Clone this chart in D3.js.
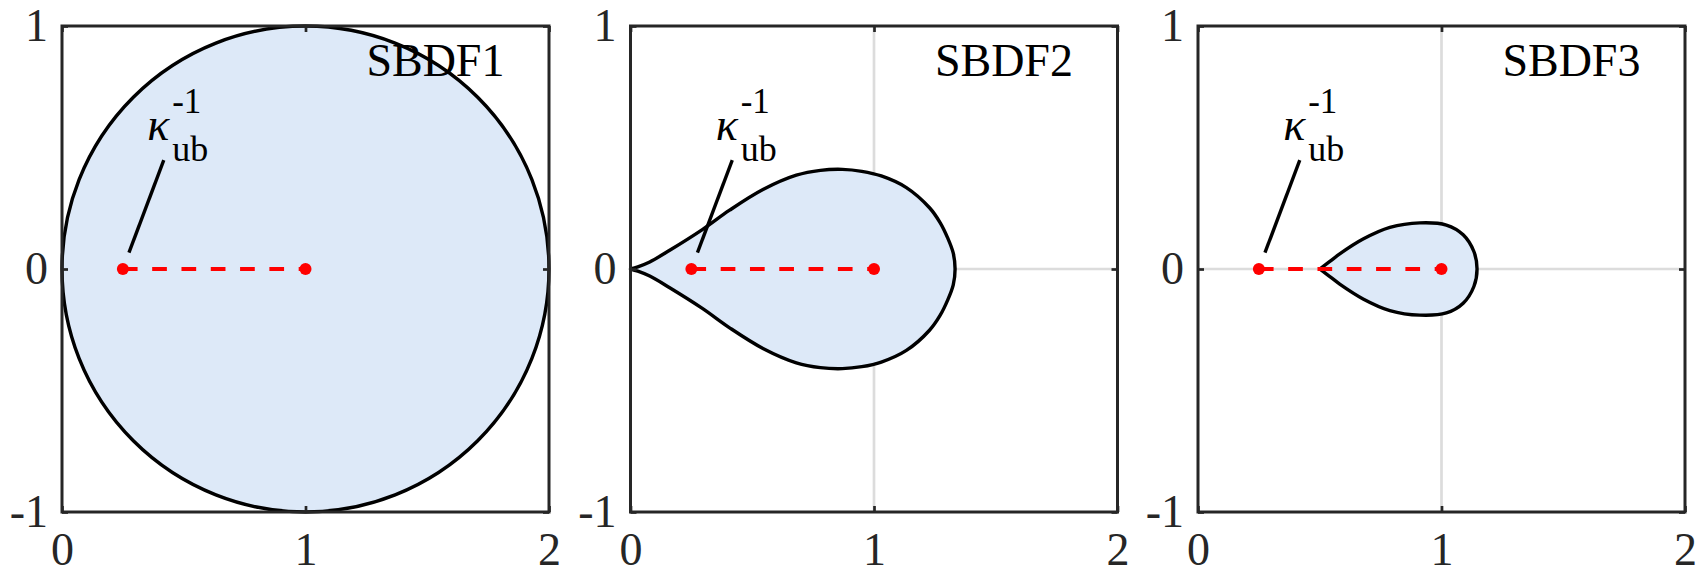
<!DOCTYPE html>
<html>
<head>
<meta charset="utf-8">
<script src="https://cdn.jsdelivr.net/npm/d3@7"></script>
<style>
  body { margin: 0; background: #fff; }
  text { font-family: "Liberation Serif", "Times New Roman", serif; }
</style>
</head>
<body>
<svg id="chart" width="1704" height="574"></svg>
<script>
// ticks shared by all three panels
const xTicks = [0, 1, 2];
const yTicks = [-1, 0, 1];
const methods = ['SBDF1', 'SBDF2', 'SBDF3'];

// SBDF1 region is a disc
const sbdf1Center = [1, 0];
const sbdf1Radius = 1;

// SBDF2 boundary: cusp -> top -> right end, then back along the bottom
const sbdf2Upper = [
  [0, 0], [0.03, 0.009], [0.079, 0.029], [0.161, 0.077], [0.295, 0.162],
  [0.407, 0.242], [0.544, 0.327], [0.681, 0.386], [0.78, 0.406], [0.87, 0.41],
  [0.95, 0.402], [1.03, 0.383], [1.133, 0.335], [1.228, 0.252], [1.272, 0.19],
  [1.302, 0.129], [1.3255, 0.065], [1.333, 0]
];
const sbdf2Lower = [
  [1.3255, -0.065], [1.302, -0.129], [1.272, -0.19], [1.228, -0.252], [1.133, -0.335],
  [1.03, -0.383], [0.95, -0.402], [0.87, -0.41], [0.78, -0.406], [0.681, -0.386],
  [0.544, -0.327], [0.407, -0.242], [0.295, -0.162], [0.161, -0.077], [0.079, -0.029],
  [0.03, -0.009], [0, 0]
];

// SBDF3 boundary, same order
const sbdf3Upper = [
  [0.5, 0], [0.54, 0.03], [0.582, 0.062], [0.678, 0.123], [0.788, 0.171],
  [0.911, 0.19], [1.02, 0.181], [1.089, 0.141], [1.133, 0.072], [1.146, 0]
];
const sbdf3Lower = [
  [1.133, -0.072], [1.089, -0.141], [1.02, -0.181], [0.911, -0.19], [0.788, -0.171],
  [0.678, -0.123], [0.582, -0.062], [0.54, -0.03], [0.5, 0]
];

// red markers: kappa_ub^-1 and the point 1
const markerX = [0.25, 1];
// pointer line from the label down to the kappa marker
const pointer = [[0.275, 0.067], [0.418, 0.448]];
const labelAt = [0.35, 0.53];
const namePos = [1.25, 0.795];

const panelLeft = [62, 630.5, 1198];
const marginTop = 26, w = 487, h = 486;

const svg = d3.select('#chart');
const x = d3.scaleLinear().domain([0, 2]).range([0, w]);
const y = d3.scaleLinear().domain([-1, 1]).range([h, 0]);

const line = d3.line()
  .x(d => x(d[0]))
  .y(d => y(d[1]))
  .curve(d3.curveCatmullRom.alpha(0.5));

const shapes = [null, sbdf2Upper.concat(sbdf2Lower), sbdf3Upper.concat(sbdf3Lower)];

methods.forEach((name, i) => {
  const g = svg.append('g').attr('transform', `translate(${panelLeft[i]},${marginTop})`);

  // grid lines at the inner ticks
  g.append('g').selectAll('line')
    .data(xTicks.slice(1, -1))
    .enter().append('line')
    .attr('x1', d => x(d)).attr('x2', d => x(d))
    .attr('y1', 0).attr('y2', h)
    .attr('stroke', '#dcdcdc').attr('stroke-width', 2.7);
  g.append('g').selectAll('line')
    .data(yTicks.slice(1, -1))
    .enter().append('line')
    .attr('x1', 0).attr('x2', w)
    .attr('y1', d => y(d)).attr('y2', d => y(d))
    .attr('stroke', '#dcdcdc').attr('stroke-width', 2.7);

  // stability region
  if (i === 0) {
    g.append('ellipse')
      .attr('cx', x(sbdf1Center[0]))
      .attr('cy', y(sbdf1Center[1]))
      .attr('rx', x(sbdf1Center[0] + sbdf1Radius) - x(sbdf1Center[0]))
      .attr('ry', y(sbdf1Center[1] - sbdf1Radius) - y(sbdf1Center[1]))
      .attr('fill', '#dde9f8')
      .attr('stroke', '#000')
      .attr('stroke-width', 3.4);
  } else {
    g.append('path')
      .attr('d', line(shapes[i]) + 'Z')
      .attr('fill', '#dde9f8')
      .attr('stroke', '#000')
      .attr('stroke-width', 3.4)
      .attr('stroke-linejoin', 'round');
  }

  // method name
  g.append('text')
    .attr('x', x(namePos[0]))
    .attr('y', y(namePos[1]))
    .attr('font-size', 46)
    .attr('fill', '#000')
    .text(name);

  // red dashed segment and dots
  g.append('line')
    .attr('x1', x(markerX[0])).attr('x2', x(markerX[1]))
    .attr('y1', y(0)).attr('y2', y(0))
    .attr('stroke', '#ff0000')
    .attr('stroke-width', 4)
    .attr('stroke-dasharray', '14.7,14.6');
  g.selectAll('circle.dot')
    .data(markerX)
    .enter().append('circle')
    .attr('class', 'dot')
    .attr('cx', d => x(d))
    .attr('cy', y(0))
    .attr('r', 6)
    .attr('fill', '#ff0000');

  // pointer + kappa label
  g.append('line')
    .attr('x1', x(pointer[0][0])).attr('y1', y(pointer[0][1]))
    .attr('x2', x(pointer[1][0])).attr('y2', y(pointer[1][1]))
    .attr('stroke', '#000').attr('stroke-width', 3.4);

  const lx = x(labelAt[0]), ly = y(labelAt[1]);
  g.append('text')
    .attr('x', lx).attr('y', ly)
    .attr('font-size', 46).attr('font-style', 'italic')
    .text('κ');
  g.append('text')
    .attr('x', lx + 25).attr('y', ly - 27)
    .attr('font-size', 35)
    .text('-1');
  g.append('text')
    .attr('x', lx + 25).attr('y', ly + 21)
    .attr('font-size', 36)
    .text('ub');

  // axes: ticks point inwards like MATLAB
  const fmt = d => String(d);
  const bottom = g.append('g').attr('transform', `translate(0,${h})`)
    .call(d3.axisBottom(x).tickValues(xTicks).tickFormat(fmt).tickSize(-6).tickPadding(20));
  const left = g.append('g')
    .call(d3.axisLeft(y).tickValues(yTicks).tickFormat(fmt).tickSize(-6).tickPadding(14));
  g.append('g')
    .call(d3.axisTop(x).tickValues(xTicks).tickFormat('').tickSize(-6));
  g.append('g').attr('transform', `translate(${w},0)`)
    .call(d3.axisRight(y).tickValues(yTicks).tickFormat('').tickSize(-6));

  g.selectAll('.domain').remove();
  g.selectAll('.tick line').attr('stroke', '#262626').attr('stroke-width', 2.7);
  [bottom, left].forEach(a => a.attr('font-size', 46).attr('font-family', null));
  g.selectAll('.tick text').attr('fill', '#262626');

  // frame
  g.append('rect')
    .attr('width', w).attr('height', h)
    .attr('fill', 'none')
    .attr('stroke', '#262626')
    .attr('stroke-width', 3);
});
</script>
</body>
</html>
